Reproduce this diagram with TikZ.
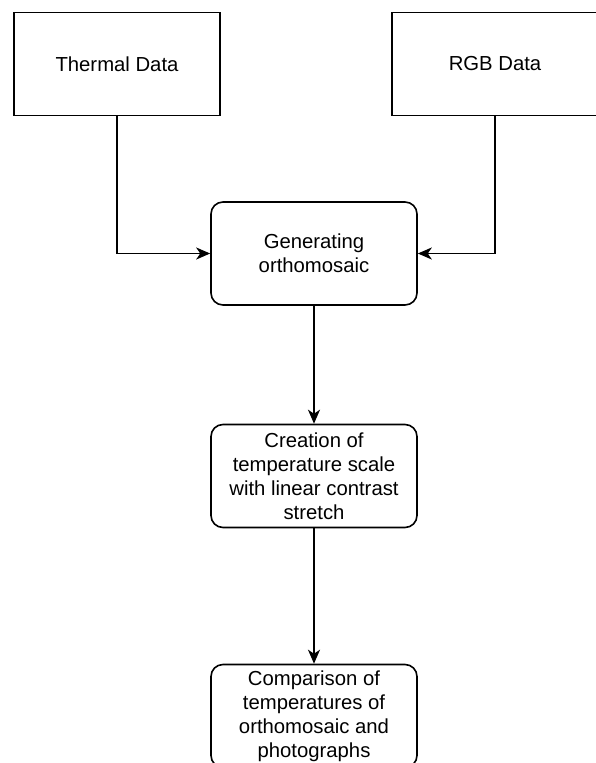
\documentclass[tikz,border=0pt]{standalone}
\usepackage{fontspec}
\setmainfont{Liberation Sans}
\usetikzlibrary{arrows.meta}
\begin{document}
\begin{tikzpicture} [x=1pt,y=-1pt,font=\fontsize{20.3}{24}\selectfont,
		databox/.style={draw,line width=1.6pt,minimum width=206pt,minimum height=103pt,align=center,inner sep=2pt},
		procbox/.style={databox,rounded corners=12pt},
		arr/.style={line width=1.5pt,-{Stealth[length=14pt,width=12pt,inset=4pt]}}]
		\useasboundingbox (0,0) rectangle (595,763);
		\node [databox] (thermal) at (117,64) {Thermal Data};
		\node [databox] (rgb) at (495,64) {RGB Data};
		\node [procbox] (ortho) at (314,253.5) {Generating\\orthomosaic};
		\node [procbox] (scale) at (314,476) {Creation of\\temperature scale\\with linear contrast\\stretch};
		\node [procbox] (compare) at (314,716) {Comparison of\\temperatures of\\orthomosaic and\\photographs};
		\draw [arr] (thermal.south) |- (ortho.west);
		\draw [arr] (rgb.south) |- (ortho.east);
		\draw [arr] (ortho) -- (scale);
		\draw [arr] (scale) -- (compare);
	\end{tikzpicture}
\end{document}
